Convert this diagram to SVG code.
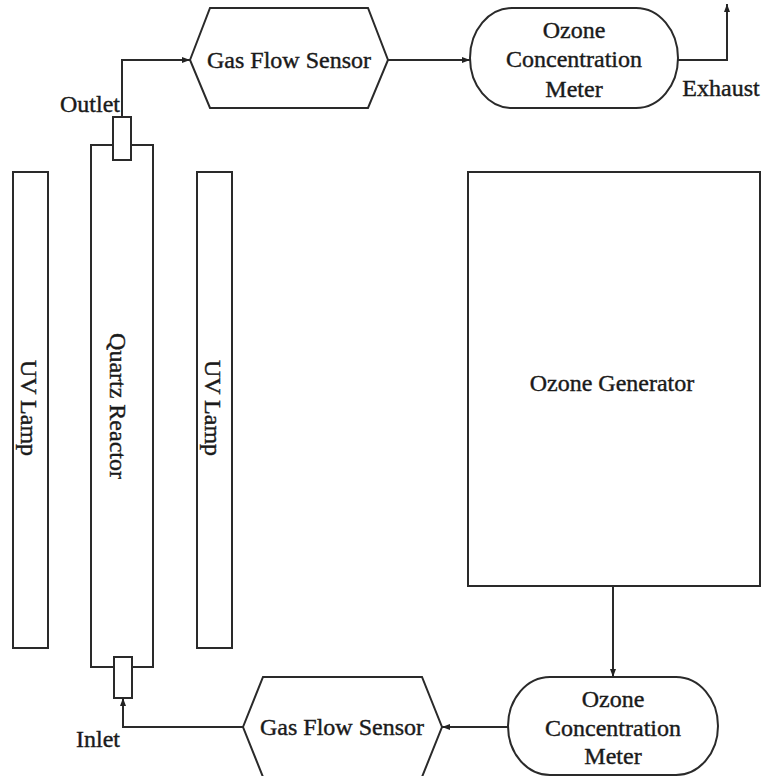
<svg xmlns="http://www.w3.org/2000/svg" width="764" height="776" viewBox="0 0 764 776">
<defs>
<marker id="ah" markerUnits="userSpaceOnUse" markerWidth="10" markerHeight="8" refX="8" refY="4" orient="auto">
<path d="M0,1 L8,4 L0,7 Z" fill="#222"/>
</marker>
</defs>
<style>
.s{fill:#fff;stroke:#2a2a2a;stroke-width:2}
.t{font-family:"Liberation Serif","Times New Roman",serif;font-size:24px;fill:#1a1a1a;stroke:#1a1a1a;stroke-width:0.4;text-anchor:middle}
.l{fill:none;stroke:#2a2a2a;stroke-width:2}
</style>
<rect width="764" height="776" fill="#fff"/>
<g id="uv-lamp-left">
<rect class="s" x="13" y="172" width="35" height="476"/>
<text class="t" dominant-baseline="central" transform="translate(29,408) rotate(90)">UV Lamp</text>
</g>
<g id="quartz-reactor">
<rect class="s" x="91" y="145" width="62" height="522"/>
<text class="t" dominant-baseline="central" transform="translate(118,406) rotate(90)">Quartz Reactor</text>
<rect class="s" x="113" y="117" width="18" height="43"/>
<rect class="s" x="114" y="657" width="18" height="41"/>
</g>
<g id="uv-lamp-right">
<rect class="s" x="197" y="172" width="35" height="476"/>
<text class="t" dominant-baseline="central" transform="translate(213,408) rotate(90)">UV Lamp</text>
</g>
<g id="gas-flow-sensor-top">
<polygon class="s" points="190,60 210,8 368,8 388,60 368,108 210,108"/>
<text class="t" x="289" y="68">Gas Flow Sensor</text>
</g>
<g id="ozone-meter-top">
<rect class="s" x="470" y="8" width="208" height="100" rx="42" ry="50"/>
<text class="t" x="574" y="38">Ozone</text>
<text class="t" x="574" y="67">Concentration</text>
<text class="t" x="574" y="97">Meter</text>
</g>
<g id="ozone-generator">
<rect class="s" x="468" y="172" width="292" height="414"/>
<text class="t" x="612" y="391">Ozone Generator</text>
</g>
<g id="ozone-meter-bottom">
<rect class="s" x="508" y="677" width="210" height="98" rx="42" ry="49"/>
<text class="t" x="613" y="707">Ozone</text>
<text class="t" x="613" y="736">Concentration</text>
<text class="t" x="613" y="764">Meter</text>
</g>
<g id="gas-flow-sensor-bottom">
<polygon class="s" points="243,727 263,677 422,677 442,727 422,777 263,777"/>
<text class="t" x="342" y="735">Gas Flow Sensor</text>
</g>
<g id="labels">
<text class="t" x="90" y="112">Outlet</text>
<text class="t" x="98" y="747">Inlet</text>
<text class="t" x="721" y="96">Exhaust</text>
</g>
<g id="connectors">
<polyline class="l" points="122,117 122,60 190,60" marker-end="url(#ah)"/>
<line class="l" x1="388" y1="60" x2="470" y2="60" marker-end="url(#ah)"/>
<polyline class="l" points="678,60 727,60 727,4" marker-end="url(#ah)"/>
<line class="l" x1="613" y1="586" x2="613" y2="677" marker-end="url(#ah)"/>
<line class="l" x1="508" y1="727" x2="442" y2="727" marker-end="url(#ah)"/>
<polyline class="l" points="243,727 123,727 123,698" marker-end="url(#ah)"/>
</g>
</svg>
